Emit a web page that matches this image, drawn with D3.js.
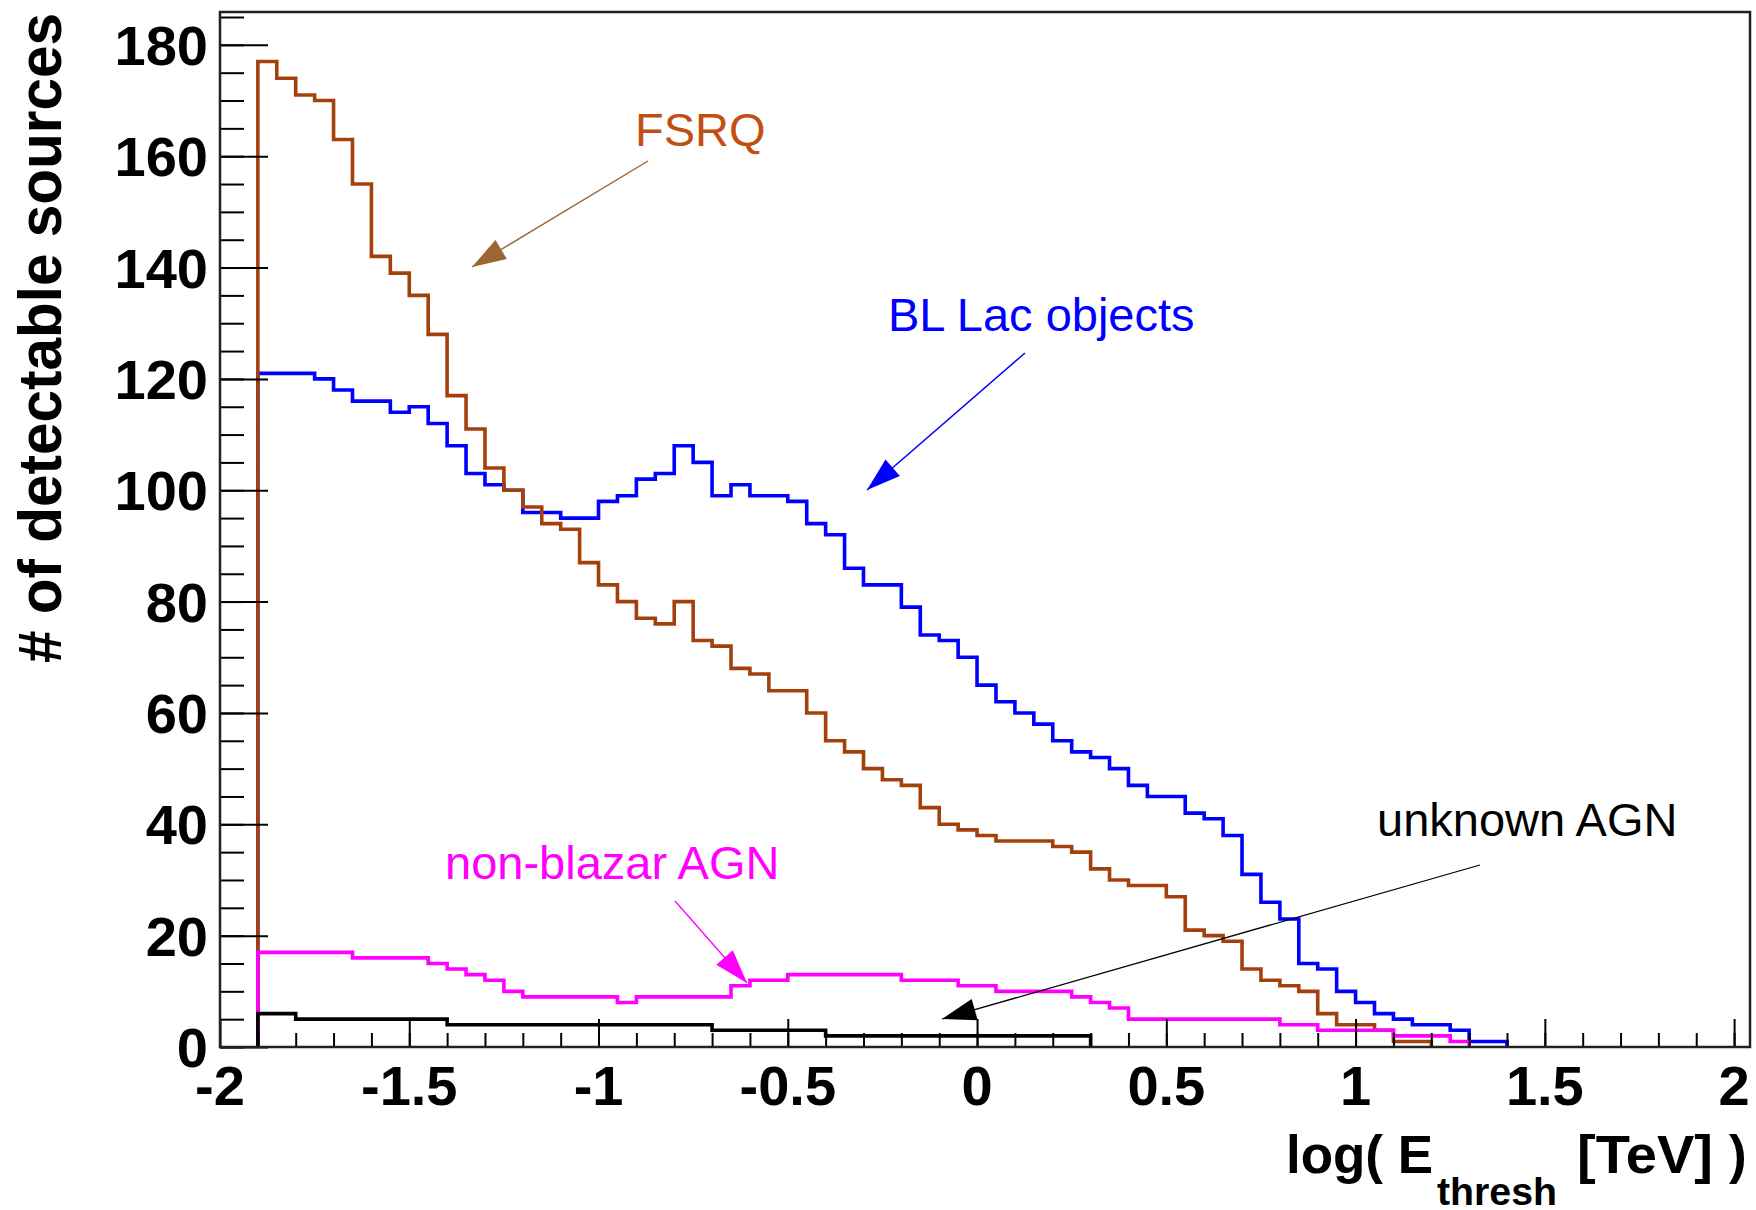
<!DOCTYPE html>
<html>
<head>
<meta charset="utf-8">
<script src="https://cdn.jsdelivr.net/npm/d3@7"></script>
<style>
body{margin:0;background:#fff;}
svg{display:block;}
.tick-label{font-family:"Liberation Sans",Arial,Helvetica,sans-serif;font-weight:bold;font-size:56px;fill:#000;}
.title{font-family:"Liberation Sans",Arial,Helvetica,sans-serif;font-weight:bold;fill:#000;}
.note{font-family:"Liberation Sans",Arial,Helvetica,sans-serif;font-size:47px;}
</style>
</head>
<body>
<svg id="chart"></svg>
<script>
// bins start at log(E)=-1.9, width 0.05
var binStart = -1.9;
var binWidth = 0.05;

var fsrq = [177,174,171,170,163,155,142,139,135,128,117,111,104,100,97,94,93,87,83,80,
            77,76,80,73,72,68,67,64,64,60,55,53,50,48,47,43,40,39,38,37,
            37,37,36,35,32,30,29,29,27,21,20,19,14,12,11,10,6,4,4,3,
            1,1,0,0,0,0];
var blLac = [121,121,121,120,118,116,116,114,115,112,108,103,101,100,96,96,95,95,98,99,
             102,103,108,105,99,101,99,99,98,94,92,86,83,83,79,74,73,70,65,62,
             60,58,55,53,52,50,47,45,45,42,41,38,31,26,23,15,14,10,8,6,
             5,4,4,3,1,1];
var nonBlazar = [17,17,17,17,17,16,16,16,16,15,14,13,12,10,9,9,9,9,9,8,
                 9,9,9,9,9,11,12,12,13,13,13,13,13,13,12,12,12,11,11,10,
                 10,10,10,9,8,7,5,5,5,5,5,5,5,5,4,4,3,3,3,3,
                 2,2,2,1,0,0];
var unknownAgn = [6,6,5,5,5,5,5,5,5,5,4,4,4,4,4,4,4,4,4,4,
                  4,4,4,4,3,3,3,3,3,3,2,2,2,2,2,2,2,2,2,2,
                  2,2,2,2,0,0,0,0,0,0,0,0,0,0,0,0,0,0,0,0,
                  0,0,0,0,0,0];

var yTicks = [0,20,40,60,80,100,120,140,160,180];
var xTicks = [-2,-1.5,-1,-0.5,0,0.5,1,1.5,2];
var xTickLabels = ["-2","-1.5","-1","-0.5","0","0.5","1","1.5","2"];

var series = [
    {name:"BL Lac objects", values:blLac, color:"#0000ff"},
    {name:"FSRQ", values:fsrq, color:"#a3400c"},
    {name:"non-blazar AGN", values:nonBlazar, color:"#ff00ff"},
    {name:"unknown AGN", values:unknownAgn, color:"#000000"}
];

var notes = [
    {text:"FSRQ", color:"#c24f12", arrow:"#9b6633", tx:635, ty:146, x1:648, y1:161, x2:472, y2:267, w:1.4},
    {text:"BL Lac objects", color:"#0000ff", arrow:"#0000ff", tx:888, ty:331, x1:1025, y1:353, x2:867, y2:490, w:1.5},
    {text:"non-blazar AGN", color:"#ff00ff", arrow:"#ff00ff", tx:445, ty:879, x1:675, y1:901, x2:747, y2:983, w:1.3},
    {text:"unknown AGN", color:"#000000", arrow:"#000000", tx:1377, ty:836, x1:1480, y1:865, x2:942, y2:1019, w:1.3}
];

var screen = {width:1756, height:1210};
var frame = {left:220, right:1750, top:12, bottom:1047};

var svg = d3.select("#chart")
    .attr("width", screen.width)
    .attr("height", screen.height);

var xScale = d3.scaleLinear()
    .domain([-2, 2.042])
    .range([frame.left, frame.right]);
var yScale = d3.scaleLinear()
    .domain([0, 185.9])
    .range([frame.bottom, frame.top]);

var stepPoints = function(values)
{
    var last = values.length - 1;
    while(last > 0 && values[last] == 0) { last--; }
    var pts = [[xScale(binStart), yScale(0)]];
    for(var i = 0; i <= last; i++)
    {
        var lo = binStart + i*binWidth;
        pts.push([xScale(lo), yScale(values[i])]);
        pts.push([xScale(lo + binWidth), yScale(values[i])]);
    }
    pts.push([xScale(binStart + (last+1)*binWidth), yScale(0)]);
    return pts;
}

var line = d3.line();

svg.append("g")
    .selectAll("path")
    .data(series)
    .enter()
    .append("path")
    .attr("d", function(s) { return line(stepPoints(s.values)); })
    .attr("fill", "none")
    .attr("stroke", function(s) { return s.color; })
    .attr("stroke-width", 3.6)
    .attr("stroke-linejoin", "miter");

// axes: ticks drawn inward like ROOT
var minorY = d3.axisRight(yScale).tickValues(d3.range(0, 186, 5)).tickSize(24).tickFormat("");
var majorY = d3.axisRight(yScale).tickValues(yTicks).tickSize(48).tickFormat("");
var minorX = d3.axisTop(xScale).tickValues(d3.range(-19, 21).map(function(d){ return d/10; })).tickSize(14).tickFormat("");
var majorX = d3.axisTop(xScale).tickValues(xTicks).tickSize(28).tickFormat("");

[[minorY,"translate("+frame.left+",0)"],[majorY,"translate("+frame.left+",0)"],
 [minorX,"translate(0,"+frame.bottom+")"],[majorX,"translate(0,"+frame.bottom+")"]]
.forEach(function(a)
{
    var g = svg.append("g").attr("transform", a[1]).call(a[0]);
    g.select(".domain").remove();
    g.selectAll("line").attr("stroke", "#000").attr("stroke-width", 2);
});

svg.append("rect")
    .attr("x", frame.left)
    .attr("y", frame.top)
    .attr("width", frame.right - frame.left)
    .attr("height", frame.bottom - frame.top)
    .attr("fill", "none")
    .attr("stroke", "#222")
    .attr("stroke-width", 2.5);

svg.append("g")
    .selectAll("text")
    .data(yTicks)
    .enter()
    .append("text")
    .classed("tick-label", true)
    .attr("text-anchor", "end")
    .attr("x", 208)
    .attr("y", function(d) { return yScale(d) + 20; })
    .text(function(d) { return d; });

svg.append("g")
    .selectAll("text")
    .data(xTicks)
    .enter()
    .append("text")
    .classed("tick-label", true)
    .attr("text-anchor", "middle")
    .attr("x", function(d) { return xScale(d); })
    .attr("y", 1105)
    .text(function(d, i) { return xTickLabels[i]; });

// axis titles
svg.append("text")
    .classed("title", true)
    .attr("text-anchor", "middle")
    .attr("transform", "translate(61,338) rotate(-90)")
    .attr("font-size", 62)
    .attr("textLength", 650)
    .attr("lengthAdjust", "spacingAndGlyphs")
    .text("# of detectable sources");

var xTitle = svg.append("text")
    .classed("title", true)
    .attr("font-size", 53)
    .attr("y", 1173);
xTitle.append("tspan").attr("x", 1286).attr("textLength", 147).attr("lengthAdjust", "spacingAndGlyphs").text("log( E");
xTitle.append("tspan").attr("x", 1437).attr("y", 1205).attr("font-size", 39).attr("textLength", 120).attr("lengthAdjust", "spacingAndGlyphs").text("thresh");
xTitle.append("tspan").attr("x", 1577).attr("y", 1173).attr("textLength", 136).attr("lengthAdjust", "spacingAndGlyphs").text("[TeV]");
xTitle.append("tspan").attr("x", 1729).attr("y", 1173).text(")");

// annotations with arrows
var arrowHead = function(n)
{
    var dx = n.x2 - n.x1, dy = n.y2 - n.y1;
    var len = Math.sqrt(dx*dx + dy*dy);
    var ux = dx/len, uy = dy/len;
    var L = 34, H = 11;
    var bx = n.x2 - ux*L, by = n.y2 - uy*L;
    return [[n.x2, n.y2], [bx - uy*H, by + ux*H], [bx + uy*H, by - ux*H]];
}

var notesG = svg.append("g");
notesG.selectAll("line")
    .data(notes)
    .enter()
    .append("line")
    .attr("x1", function(n) { return n.x1; })
    .attr("y1", function(n) { return n.y1; })
    .attr("x2", function(n) { return n.x2; })
    .attr("y2", function(n) { return n.y2; })
    .attr("stroke", function(n) { return n.arrow; })
    .attr("stroke-width", function(n) { return n.w; });
notesG.selectAll("polygon")
    .data(notes)
    .enter()
    .append("polygon")
    .attr("points", function(n) { return arrowHead(n).map(function(p){ return p.join(","); }).join(" "); })
    .attr("fill", function(n) { return n.arrow; });
notesG.selectAll("text")
    .data(notes)
    .enter()
    .append("text")
    .classed("note", true)
    .attr("x", function(n) { return n.tx; })
    .attr("y", function(n) { return n.ty; })
    .attr("fill", function(n) { return n.color; })
    .text(function(n) { return n.text; });
</script>
</body>
</html>
